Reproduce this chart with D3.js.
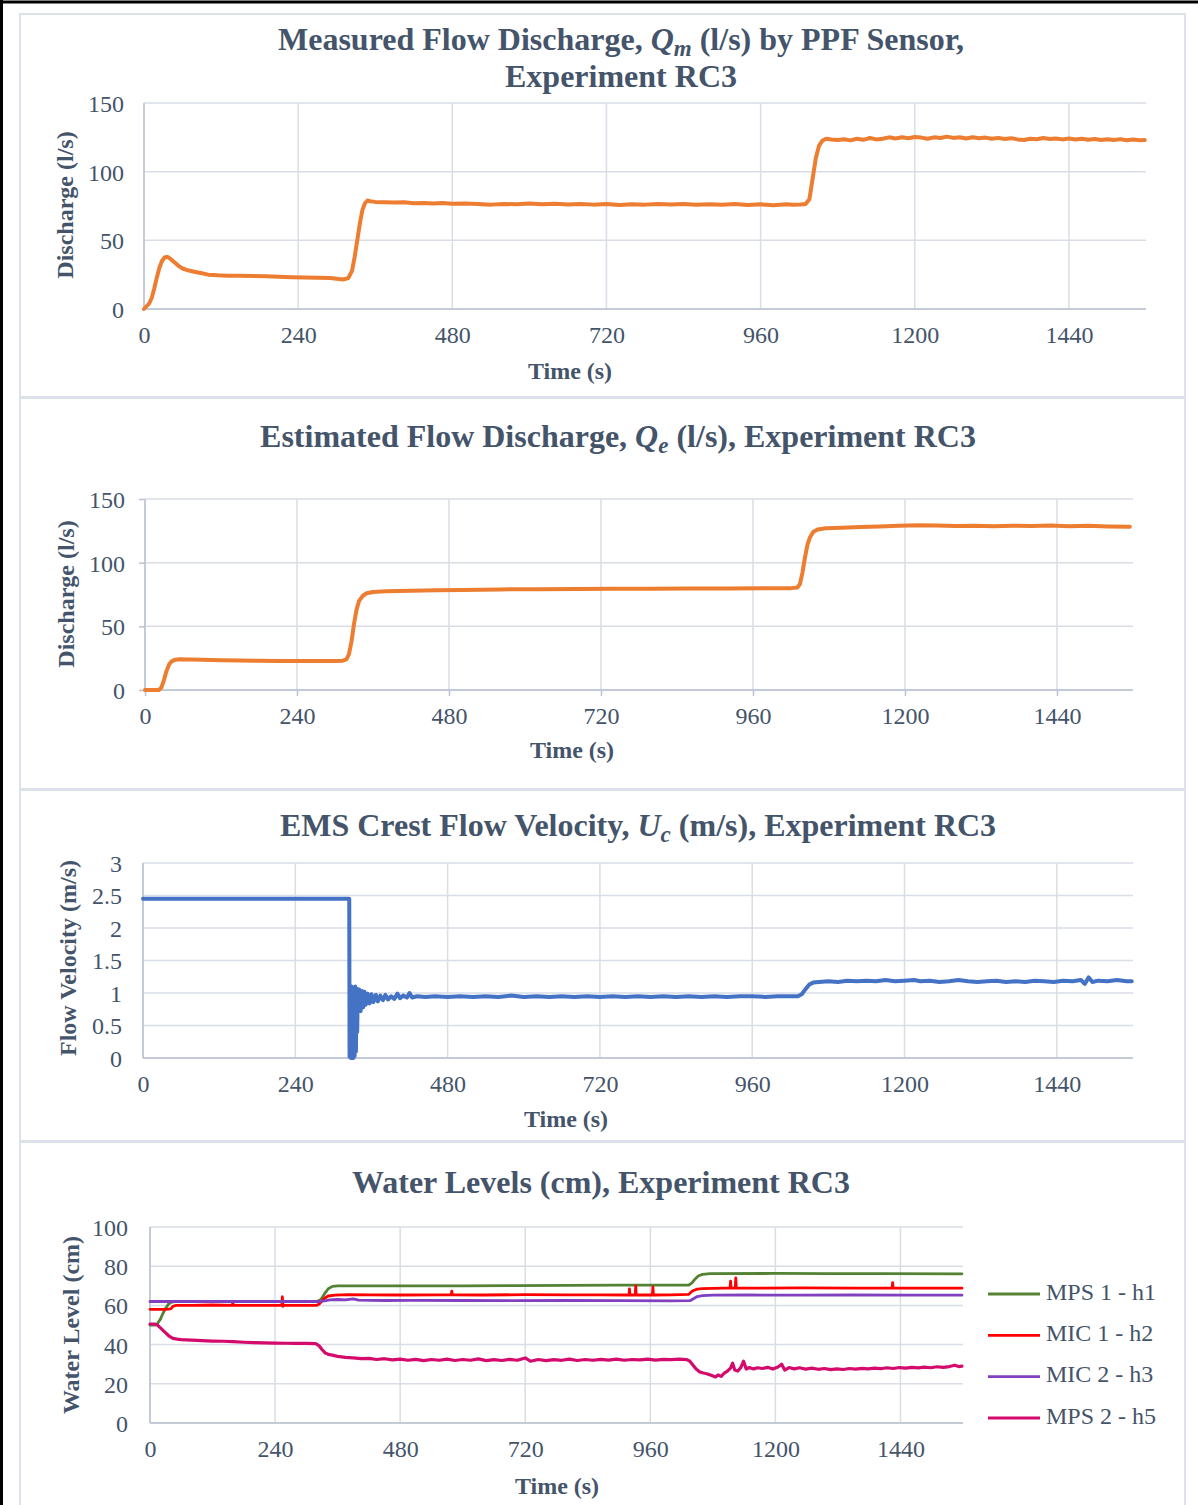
<!DOCTYPE html>
<html><head><meta charset="utf-8">
<script src="https://cdnjs.cloudflare.com/ajax/libs/d3/7.8.5/d3.min.js"></script>
<style>
html,body{margin:0;padding:0;background:#fff;}
svg text{font-family:"Liberation Serif","Times New Roman",serif !important;}
</style></head>
<body>
<svg id="c" width="1198" height="1505"></svg>
<script>
// ---------- DATA ----------
const timeTicks = [0, 240, 480, 720, 960, 1200, 1440];
const dischargeTicks = [0, 50, 100, 150];
const velocityTicks = [0, 0.5, 1, 1.5, 2, 2.5, 3];
const levelTicks = [0, 20, 40, 60, 80, 100];

const qmData = [[0,0],[4,2],[8,4],[12,8],[16,15],[20,23],[24,30],[28,35],[32,37.5],[36,38],[40,37],[45,35],[50,33],[55,31],[60,29.5],[70,28],[80,27],[90,26],[100,25],[115,24.5],[130,24.3],[150,24.2],[170,24],[190,23.8],[210,23.5],[230,23.2],[250,23],[270,22.8],[290,22.5],[300,22],[310,21.5],[318,22.5],[324,28],[328,38],[332,50],[336,62],[340,72],[344,77],[348,79],[352,78.5],[360,78],[375,77.8],[390,77.5],[405,77.7],[420,77],[435,77.2],[450,76.8],[465,77.1],[480,76.6],[500,76.9],[520,76.4],[540,76],[560,76.5],[580,76.2],[600,76.8],[620,76.3],[640,76.7],[660,76.1],[680,76.5],[700,76],[720,76.4],[740,75.8],[760,76.3],[780,76],[800,76.5],[820,76.1],[840,76.4],[860,75.9],[880,76.3],[900,76],[920,76.4],[940,75.8],[960,76.2],[980,75.6],[1000,76.2],[1010,76],[1022,76.1],[1030,76.5],[1036,80],[1041,95],[1046,110],[1051,119],[1056,122.5],[1062,124],[1070,123.5],[1080,123],[1090,123.6],[1100,122.8],[1110,124],[1120,123.2],[1130,124.5],[1140,123.5],[1150,124],[1160,125],[1170,124.2],[1180,125],[1190,124.3],[1200,125.2],[1210,124.8],[1220,124],[1230,125],[1240,124.5],[1250,125.5],[1260,124.6],[1270,125],[1280,124.2],[1290,125],[1300,124.3],[1310,124.8],[1320,124],[1330,124.6],[1340,123.8],[1350,124.4],[1360,123.5],[1370,123],[1380,124],[1390,123.6],[1400,124.5],[1410,123.8],[1420,124.2],[1430,123.5],[1440,124.1],[1450,123.4],[1460,124],[1470,123.2],[1480,123.8],[1490,123],[1500,123.6],[1510,123.1],[1520,123.7],[1530,122.9],[1540,123.4],[1550,122.8],[1558,123]];

const qeData = [[0,0],[10,0],[22,0],[26,2],[30,8],[34,15],[38,20],[42,22.5],[48,23.8],[55,24.2],[70,24],[90,23.8],[120,23.4],[150,23.2],[180,23],[210,22.8],[240,22.7],[270,22.7],[300,22.8],[312,23],[318,24],[322,28],[326,38],[330,52],[334,63],[338,70],[344,74],[350,76],[360,77],[380,77.5],[420,78],[460,78.3],[500,78.6],[560,79],[620,79.2],[680,79.3],[740,79.5],[800,79.6],[860,79.7],[920,79.8],[980,80],[1020,80],[1030,80.5],[1034,83],[1038,92],[1042,104],[1046,114],[1050,120],[1055,124],[1062,126],[1075,127],[1100,127.5],[1130,128],[1160,128.5],[1190,129],[1220,129.3],[1250,129.2],[1280,128.8],[1310,129],[1340,128.6],[1370,129],[1400,128.8],[1430,129.1],[1460,128.6],[1490,129],[1520,128.5],[1555,128.3]];

const ucData = [[0,2.45],[100,2.45],[200,2.45],[325,2.45],[325.5,0.02],[326.5,1.05],[327.5,0],[328.5,1.1],[329.5,0.02],[330.5,1.08],[331.5,0],[332.5,1.04],[333.5,0.03],[334.5,1.1],[335.5,0.1],[336.5,1.0],[337.5,0.4],[338.5,1.06],[339.5,0.75],[341,1.05],[343,0.72],[345,1.03],[347,0.78],[349,1.02],[351,0.82],[354,0.99],[357,0.84],[360,0.98],[363,0.86],[367,0.97],[370,0.87],[374,0.96],[378,0.89],[382,0.97],[386,0.9],[391,0.95],[396,0.91],[401,0.99],[405,0.92],[410,0.96],[416,0.93],[420,1.0],[424,0.93],[432,0.95],[445,0.94],[460,0.95],[480,0.94],[500,0.95],[520,0.94],[540,0.95],[560,0.94],[580,0.96],[600,0.94],[620,0.95],[640,0.94],[660,0.95],[680,0.94],[700,0.95],[720,0.94],[740,0.95],[760,0.94],[780,0.95],[800,0.94],[820,0.95],[840,0.94],[860,0.95],[880,0.94],[900,0.95],[920,0.94],[940,0.95],[960,0.95],[980,0.94],[1000,0.95],[1020,0.95],[1032,0.95],[1038,0.98],[1044,1.06],[1050,1.13],[1056,1.16],[1065,1.17],[1080,1.18],[1095,1.17],[1110,1.19],[1125,1.18],[1140,1.19],[1155,1.18],[1170,1.2],[1185,1.18],[1200,1.19],[1215,1.2],[1225,1.18],[1240,1.19],[1255,1.17],[1270,1.18],[1285,1.2],[1300,1.18],[1315,1.17],[1330,1.18],[1345,1.19],[1360,1.17],[1375,1.18],[1390,1.17],[1405,1.19],[1420,1.18],[1435,1.17],[1450,1.19],[1465,1.18],[1478,1.2],[1484,1.14],[1490,1.24],[1496,1.17],[1505,1.19],[1520,1.18],[1535,1.2],[1550,1.18],[1558,1.18]];

const h1Data = [[0,50],[10,50],[15,51],[20,53],[25,56],[30,58.5],[35,60.5],[40,61.5],[50,62],[100,62],[200,62],[300,62],[320,62],[328,63],[335,66],[342,68.5],[350,69.7],[360,70],[400,70],[500,70],[600,70],[700,70.1],[800,70.2],[900,70.3],[1000,70.3],[1034,70.4],[1040,71.5],[1046,73.5],[1052,75],[1060,75.8],[1075,76.2],[1200,76.3],[1300,76.2],[1400,76.2],[1558,76.1]];

const h2Data = [[0,58],[10,58],[20,58],[30,58],[40,58.2],[44,59.5],[50,60],[80,60],[120,60.2],[158,60],[159,61.5],[160,60],[200,60],[253,60],[254,64.4],[255,59.5],[256,60],[300,60],[320,60],[326,61],[334,63.5],[342,64.8],[355,65.2],[380,65.5],[420,65.4],[480,65.3],[560,65.4],[578,65.4],[579,67.3],[580,65.4],[640,65.3],[720,65.5],[800,65.4],[860,65.4],[919,65.3],[920,68.4],[921,65.3],[931,65.3],[932,70],[933,65.3],[964,65.3],[965,69.4],[966,65.3],[1000,65.4],[1034,65.6],[1038,66.8],[1042,67.5],[1050,68.3],[1060,68.6],[1100,68.8],[1113,68.8],[1114,72.4],[1115,68.8],[1123,68.8],[1124,74],[1125,68.8],[1160,68.8],[1250,68.9],[1350,68.8],[1424,68.8],[1425,71.6],[1426,68.8],[1500,68.8],[1558,68.8]];

const h3Data = [[0,62],[100,62],[200,62],[300,62],[325,62],[335,62.3],[345,62.8],[360,63],[375,62.8],[390,63.3],[400,62.7],[450,62.5],[500,62.6],[600,62.5],[700,62.4],[800,62.5],[900,62.4],[1000,62.3],[1036,62.4],[1042,63.3],[1050,64.5],[1060,65],[1080,65.2],[1150,65.3],[1250,65.2],[1350,65.3],[1450,65.2],[1558,65.2]];

const h5Data = [[0,50.5],[8,50.5],[14,50],[20,48.5],[28,46.5],[36,44.5],[44,43.2],[52,42.8],[60,42.5],[80,42.3],[100,42],[120,41.8],[140,41.7],[160,41.5],[180,41.2],[200,41],[220,40.9],[240,40.8],[260,40.7],[280,40.6],[300,40.6],[318,40.5],[324,39.5],[330,37.5],[336,35.8],[342,35],[350,34.6],[360,34],[375,33.5],[390,33.2],[405,32.8],[420,33],[435,32.4],[450,32.8],[465,32.2],[480,32.6],[495,32],[510,32.5],[525,31.8],[540,32.4],[555,32],[570,32.6],[585,31.9],[600,32.4],[615,32],[630,32.7],[645,31.8],[660,32.3],[675,31.9],[690,32.5],[705,32],[720,33.2],[730,31.5],[745,32.4],[760,31.8],[775,32.3],[790,32],[805,32.6],[820,31.9],[835,32.4],[850,32],[865,32.5],[880,32.1],[895,32.6],[910,32],[925,32.4],[940,32.2],[955,32.6],[970,32.1],[985,32.5],[1000,32.3],[1015,32.6],[1030,32.3],[1036,31.5],[1042,29.5],[1048,27.5],[1055,26],[1062,25.5],[1070,25],[1078,24.2],[1085,23.5],[1090,24.5],[1096,23.8],[1102,25.5],[1108,26.5],[1114,28],[1118,30.5],[1122,27],[1128,26.5],[1134,28.5],[1139,31.5],[1144,27.5],[1150,28.3],[1158,27.6],[1166,28.2],[1175,27.8],[1185,28.4],[1195,27.5],[1205,28.6],[1212,30],[1218,27],[1226,28.3],[1236,27.6],[1246,28.2],[1258,27.5],[1270,28],[1282,27.4],[1294,27.8],[1306,27.2],[1318,27.6],[1330,27.3],[1342,27.8],[1354,27.5],[1366,27.9],[1378,27.6],[1390,28],[1402,27.7],[1414,28.2],[1426,27.8],[1438,28.3],[1450,28],[1462,28.4],[1474,28.1],[1486,28.5],[1498,28.2],[1510,28.7],[1522,28.4],[1534,28.8],[1544,29.5],[1552,28.8],[1558,29]];

const levelSeries = ["MPS 1 - h1", "MIC 1 - h2", "MIC 2 - h3", "MPS 2 - h5"];

// ---------- DRAW ----------
const FONT = '"Liberation Serif","Times New Roman",serif';
const TXT = "#44546a";
const GRID = "#d9dde5";
const AXIS = "#b8c2d2";
const TICKF = 24, TITLEF = 32, AXTF = 24;
const svg = d3.select("#c");

// outer black frame (top & left visible)
svg.append("line").attr("x1",0).attr("x2",1198).attr("y1",2).attr("y2",2).attr("stroke","#000").attr("stroke-width",3);
svg.append("line").attr("x1",1.5).attr("x2",1.5).attr("y1",0).attr("y2",1505).attr("stroke","#000").attr("stroke-width",3);

// panel borders
const panels = [[14,397],[398,789],[790,1141],[1142,1530]];
panels.forEach(p=>{
  svg.append("rect").attr("x",20).attr("y",p[0]).attr("width",1165).attr("height",p[1]-p[0])
    .attr("fill","none").attr("stroke","#dde2ea").attr("stroke-width",2);
});

function title(parts, x, y, size){
  const t = svg.append("text").attr("x",x).attr("y",y).attr("text-anchor","middle")
    .attr("dominant-baseline","middle").style("font-family",FONT).attr("font-size",size).attr("font-weight","bold").attr("fill",TXT);
  parts.forEach(p=>{
    const s = t.append("tspan").text(p.t);
    if(p.i) s.attr("font-style","italic");
    if(p.sub){ s.attr("font-size", size*0.72).attr("dy", 8); }
    if(p.after){ s.attr("dy", -8); }
  });
  return t;
}

function panel(cfg){
  const x = d3.scaleLinear().domain([0,1560]).range([cfg.x0,cfg.x1]);
  const y = d3.scaleLinear().domain(cfg.yDomain).range([cfg.y0,cfg.y1]);
  const g = svg.append("g");
  // grid
  g.selectAll(".gy").data(cfg.yTicks).enter().append("line")
    .attr("x1",cfg.x0).attr("x2",cfg.x1).attr("y1",d=>y(d)).attr("y2",d=>y(d))
    .attr("stroke",GRID).attr("stroke-width",1.5);
  g.selectAll(".gx").data(timeTicks).enter().append("line")
    .attr("x1",d=>x(d)).attr("x2",d=>x(d)).attr("y1",cfg.y0).attr("y2",cfg.y1)
    .attr("stroke",GRID).attr("stroke-width",1.5);
  // axes lines
  g.append("line").attr("x1",cfg.x0).attr("x2",cfg.x0).attr("y1",cfg.y0).attr("y2",cfg.y1).attr("stroke",AXIS).attr("stroke-width",1.5);
  g.append("line").attr("x1",cfg.x0).attr("x2",cfg.x1).attr("y1",cfg.y0).attr("y2",cfg.y0).attr("stroke",AXIS).attr("stroke-width",1.5);
  const ts = cfg.tick ? 6 : 0;
  const ya = d3.axisLeft(y).tickValues(cfg.yTicks).tickSize(ts).tickPadding(cfg.yPad - ts).tickFormat(d3.format(""));
  const ay = g.append("g").attr("transform",`translate(${cfg.x0},0)`).call(ya);
  const xa = d3.axisBottom(x).tickValues(timeTicks).tickSize(ts).tickPadding(17 - ts).tickFormat(d3.format(""));
  const ax = g.append("g").attr("transform",`translate(0,${cfg.y0})`).call(xa);
  [ay,ax].forEach(a=>{
    a.attr("font-family",null).attr("font-size",null);
    a.select(".domain").remove();
    a.selectAll("line").attr("stroke",AXIS).attr("stroke-width",1.5);
    a.selectAll("text").style("font-family",FONT).style("font-size",TICKF+"px").attr("fill",TXT);
  });
  ay.selectAll("text").attr("dy","0.35em");
  ax.selectAll("text").attr("dy","0.71em");
  // axis titles
  svg.append("text").attr("transform",`translate(${cfg.ytx},${cfg.yty}) rotate(-90)`)
    .attr("text-anchor","middle").attr("dominant-baseline","middle").style("font-family",FONT)
    .attr("font-size",AXTF).attr("font-weight","bold").attr("fill",TXT).text(cfg.yTitle);
  svg.append("text").attr("x",cfg.xtx).attr("y",cfg.xty)
    .attr("text-anchor","middle").attr("dominant-baseline","middle").style("font-family",FONT)
    .attr("font-size",AXTF).attr("font-weight","bold").attr("fill",TXT).text("Time (s)");
  // series
  const line = d3.line().x(d=>x(d[0])).y(d=>y(d[1]));
  cfg.series.forEach(s=>{
    g.append("path").attr("d",line(s.data)).attr("fill","none").attr("stroke",s.color)
      .attr("stroke-width",s.w).attr("stroke-linejoin","round").attr("stroke-linecap","round");
  });
}

// Panel 1
title([{t:"Measured Flow Discharge, "},{t:"Q",i:true},{t:"m",i:true,sub:true},{t:" (l/s) by PPF Sensor,",after:true}],621,43,TITLEF);
title([{t:"Experiment RC3"}],621,80,TITLEF);
panel({x0:144,x1:1146,y0:309,y1:103,yDomain:[0,150],yTicks:dischargeTicks,yPad:20,
  yTitle:"Discharge (l/s)",ytx:67,yty:205,xtx:570,xty:373,
  series:[{data:qmData,color:"#ed7d31",w:4}]});

// Panel 2
title([{t:"Estimated Flow Discharge, "},{t:"Q",i:true},{t:"e",i:true,sub:true},{t:" (l/s), Experiment RC3",after:true}],618,440,TITLEF);
panel({x0:145,x1:1133,y0:690,y1:499,yDomain:[0,150],yTicks:dischargeTicks,yPad:20,tick:true,
  yTitle:"Discharge (l/s)",ytx:68,yty:594,xtx:572,xty:752,
  series:[{data:qeData,color:"#ed7d31",w:4}]});

// Panel 3
title([{t:"EMS Crest Flow Velocity, "},{t:"U",i:true},{t:"c",i:true,sub:true},{t:" (m/s), Experiment RC3",after:true}],638,829,TITLEF);
panel({x0:143,x1:1133,y0:1058,y1:863,yDomain:[0,3],yTicks:velocityTicks,yPad:21,
  yTitle:"Flow Velocity (m/s)",ytx:70,yty:958,xtx:566,xty:1121,
  series:[{data:ucData,color:"#4472c4",w:4}]});

// Panel 4
title([{t:"Water Levels (cm), Experiment RC3"}],601,1186,TITLEF);
const levelColors = ["#548235","#ff0000","#8040c0","#d40a6c"];
panel({x0:150,x1:963,y0:1423,y1:1227,yDomain:[0,100],yTicks:levelTicks,yPad:22,
  yTitle:"Water Level (cm)",ytx:73,yty:1325,xtx:557,xty:1488,
  series:[{data:h1Data,color:levelColors[0],w:2.8},{data:h2Data,color:levelColors[1],w:2.8},
          {data:h3Data,color:levelColors[2],w:2.8},{data:h5Data,color:levelColors[3],w:3.2}]});

// legend
const legY = d3.scalePoint().domain(levelSeries).range([1294,1418]);
const lg = svg.append("g");
levelSeries.forEach((n,i)=>{
  lg.append("line").attr("x1",988).attr("x2",1040).attr("y1",legY(n)).attr("y2",legY(n))
    .attr("stroke",levelColors[i]).attr("stroke-width",2.8);
  lg.append("text").attr("x",1046).attr("y",legY(n)).attr("dominant-baseline","middle").style("font-family",FONT)
    .attr("font-size",TICKF).attr("fill",TXT).text(n);
});
</script>
</body></html>
